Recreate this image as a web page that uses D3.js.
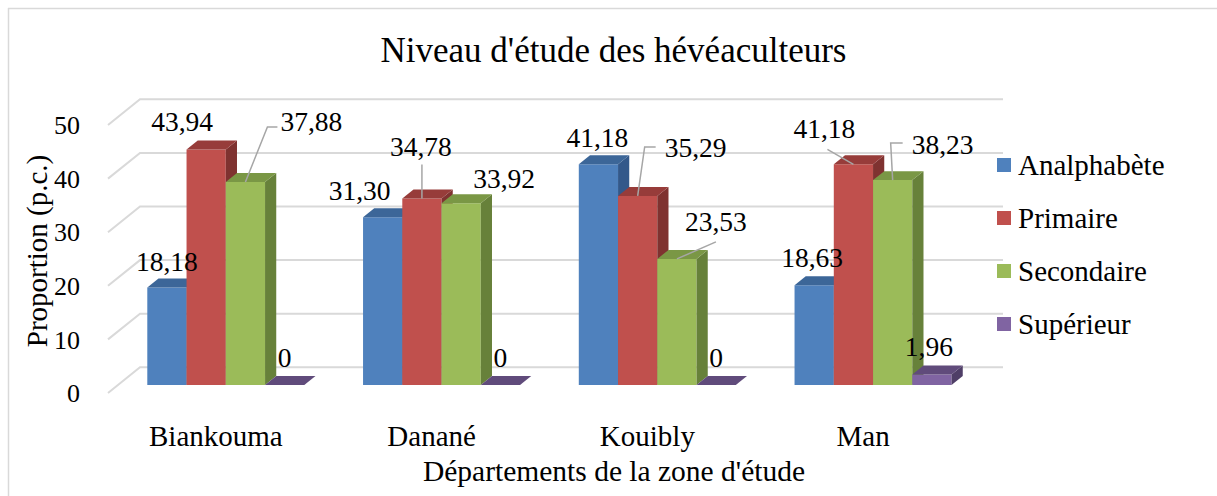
<!DOCTYPE html>
<html>
<head>
<meta charset="utf-8">
<script src="https://cdn.jsdelivr.net/npm/d3@7/dist/d3.min.js"></script>
<style>
  html, body { margin: 0; padding: 0; background: #fff; }
  svg { display: block; }
  text { font-family: "Liberation Serif", "Times New Roman", serif; fill: #000; }
</style>
</head>
<body>
<svg id="chart" width="1217" height="496"></svg>
<script>
// ---- data ----
const categories = ["Biankouma", "Danané", "Kouibly", "Man"];
const seriesNames = ["Analphabète", "Primaire", "Secondaire", "Supérieur"];
const analphabete = [18.18, 31.30, 41.18, 18.63];
const primaire    = [43.94, 34.78, 35.29, 41.18];
const secondaire  = [37.88, 33.92, 23.53, 38.23];
const superieur   = [0, 0, 0, 1.96];
const yTicks = [0, 10, 20, 30, 40, 50];
const chartTitle = "Niveau d'étude des hévéaculteurs";
const xTitle = "Départements de la zone d'étude";
const yTitle = "Proportion (p.c.)";

// ---- styles ----
const faceColors = [
  { front: "#4f81bd", top: "#3c6698", side: "#33588a" },
  { front: "#c0504d", top: "#973c3a", side: "#7f3230" },
  { front: "#9bbb59", top: "#7a9745", side: "#67813a" },
  { front: "#8064a2", top: "#604b7b", side: "#4f3e67" }
];
// manual label placement (offset of label centre from bar top, optional leader points relative to label centre)
const labelLayout = [
  [[0, -26, null], [-24, -27.5, null], [66, -60, [[-44, 5], [-34, 5]]], [0, -27, null]],
  [[-23, -27, null], [-1, -52, [[1, 18]]], [43, -25, null], [0, -27, null]],
  [[-1, -27, null], [58, -48, [[-51, -1], [-40, -1]]], [39, -37, [[0, 20]]], [0, -27, null]],
  [[-2, -27, null], [-29, -36, [[3, 21]]], [50, -35, [[-52, -2], [-40, -2]]], [-3, -27.5, null]]
];

const values = [analphabete, primaire, secondaire, superieur];
const svg = d3.select("#chart");

// 3D projection parameters
const depthX = 32, depthY = 25.7;
const zFront = 0.31, zBack = 0.66;

const x0 = d3.scaleBand().domain(categories).range([108, 971]).padding(0);
const groupW = 157;
const x1 = d3.scaleBand().domain(seriesNames).range([0, groupW]).padding(0);
const y = d3.scaleLinear().domain([0, 50]).range([393, 125]);

function P(xf, v, z) { return [xf + depthX * z, y(v) - depthY * z]; }

// border (top & left)
svg.append("line").attr("x1", 8).attr("y1", 8.5).attr("x2", 1217).attr("y2", 8.5)
  .attr("stroke", "#d9d9d9").attr("stroke-width", 1.5);
svg.append("line").attr("x1", 8.5).attr("y1", 8).attr("x2", 8.5).attr("y2", 496)
  .attr("stroke", "#d9d9d9").attr("stroke-width", 1.5);

// title
svg.append("text").attr("x", 613.5).attr("y", 62).attr("text-anchor", "middle")
  .attr("font-size", 35).text(chartTitle);

// gridlines (floor diagonal + back wall)
const xLeft = x0.range()[0], xRight = x0.range()[1];
const grid = svg.append("g");
yTicks.forEach(t => {
  const a = P(xLeft, t, 0), b = P(xLeft, t, 1), c = P(xRight, t, 1);
  grid.append("path")
    .attr("d", `M${a[0]},${a[1]}L${b[0]},${b[1]}L${c[0]},${c[1]}`)
    .attr("fill", "none").attr("stroke", "#d9d9d9").attr("stroke-width", 2);
});

// y tick labels
svg.append("g").selectAll("text").data(yTicks).join("text")
  .attr("x", 80).attr("y", d => y(d)).attr("dy", "0.35em")
  .attr("text-anchor", "end").attr("font-size", 26).text(d => d);

// y title
svg.append("text").attr("transform", "translate(37,251) rotate(-90)")
  .attr("dy", "0.35em").attr("text-anchor", "middle").attr("font-size", 29).text(yTitle);

// bars
const bars = svg.append("g");
const fmt = v => v === 0 ? "0" : v.toFixed(2).replace(".", ",");
const labelInfo = [];
categories.forEach((cat, gi) => {
  const gx = x0(cat) + (x0.bandwidth() - groupW) / 2;
  seriesNames.forEach((s, si) => {
    const v = values[si][gi];
    const xl = gx + x1(s), xr = xl + x1.bandwidth();
    const fTL = P(xl, v, zFront), fTR = P(xr, v, zFront), fBR = P(xr, 0, zFront), fBL = P(xl, 0, zFront);
    const bTL = P(xl, v, zBack), bTR = P(xr, v, zBack), bBR = P(xr, 0, zBack);
    const col = faceColors[si];
    const poly = pts => "M" + pts.map(p => p.join(",")).join("L") + "Z";
    if (v > 0) {
      bars.append("path").attr("d", poly([fTL, fTR, fBR, fBL])).attr("fill", col.front);
      bars.append("path").attr("d", poly([fTR, bTR, bBR, fBR])).attr("fill", col.side);
    }
    bars.append("path").attr("d", poly([fTL, fTR, bTR, bTL])).attr("fill", col.top);
    labelInfo.push({ v, bx: (fTL[0] + fTR[0]) / 2, by: fTL[1], lay: labelLayout[gi][si] });
  });
});

// data labels + leaders
const lab = svg.append("g");
labelInfo.forEach(d => {
  const cx = d.bx + d.lay[0], cy = d.by + d.lay[1];
  if (d.lay[2]) {
    const pts = [[d.bx, d.by]].concat(d.lay[2].map(p => [cx + p[0], cy + p[1]]));
    lab.append("path").attr("d", "M" + pts.map(p => p.join(",")).join("L"))
      .attr("fill", "none").attr("stroke", "#a6a6a6").attr("stroke-width", 1.5);
  }
  lab.append("text").attr("x", cx).attr("y", cy + 9.3).attr("text-anchor", "middle")
    .attr("font-size", 27.5).text(fmt(d.v));
});

// category labels
svg.append("g").selectAll("text").data(categories).join("text")
  .attr("x", d => x0(d) + x0.bandwidth() / 2).attr("y", 446)
  .attr("text-anchor", "middle").attr("font-size", 29).text(d => d);

// x title
svg.append("text").attr("x", 614).attr("y", 481).attr("text-anchor", "middle")
  .attr("font-size", 29.5).text(xTitle);

// legend
const leg = svg.append("g").selectAll("g").data(seriesNames).join("g")
  .attr("transform", (d, i) => `translate(997,${165 + i * 53})`);
leg.append("rect").attr("x", 0).attr("y", -7).attr("width", 14).attr("height", 14)
  .attr("fill", (d, i) => faceColors[i].front);
leg.append("text").attr("x", 21).attr("dy", "0.35em").attr("font-size", 29).text(d => d);
</script>
</body>
</html>
